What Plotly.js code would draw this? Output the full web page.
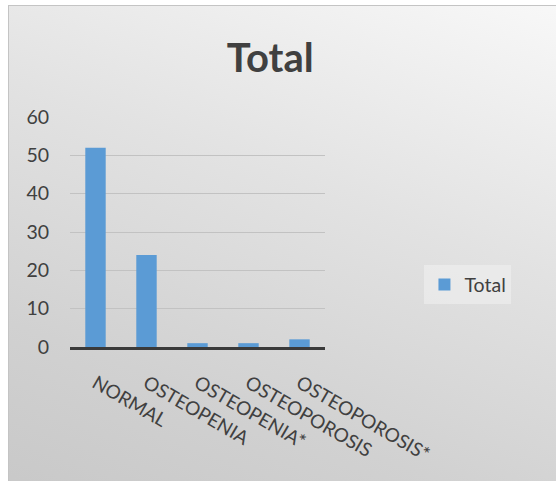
<!DOCTYPE html>
<html>
<head>
<meta charset="utf-8">
<script src="https://cdn.plot.ly/plotly-3.0.1.min.js"></script>
<style>
  html, body { margin: 0; padding: 0; background: #ffffff; }
  #frame {
    position: absolute; left: 8px; top: 5px; width: 560px; height: 490px;
    border: 1px solid #c4c4c4;
    background: linear-gradient(200deg, #f8f8f8 0%, #e2e2e2 40%, #d1d1d1 75%, #c8c8c8 100%);
  }
  #chart { position: absolute; left: 0; top: 0; width: 556px; height: 481px; }
</style>
</head>
<body>
<div id="frame"></div>
<div id="chart"></div>
<script>
const categories = ["NORMAL", "OSTEOPENIA", "OSTEOPENIA*", "OSTEOPOROSIS", "OSTEOPOROSIS*"];
const totals = [52, 24, 1, 1, 2];
const seriesName = "Total";
const yTicks = [0, 10, 20, 30, 40, 50, 60];

const fontFam = "Lato, 'Open Sans', sans-serif";

Plotly.newPlot("chart", [{
  type: "bar",
  x: categories,
  y: totals,
  name: seriesName,
  marker: { color: "#5b9bd5" },
  showlegend: true
}], {
  width: 556, height: 481,
  paper_bgcolor: "rgba(0,0,0,0)",
  plot_bgcolor: "rgba(0,0,0,0)",
  margin: { l: 70, r: 231, t: 117, b: 134 },
  bargap: 0.6,
  title: {
    text: "<b>Total</b>",
    font: { family: fontFam, size: 40, color: "#404040" },
    x: 0.486, xref: "container", xanchor: "center",
    y: 0.88, yref: "container", yanchor: "middle"
  },
  xaxis: {
    type: "category",
    showgrid: false,
    showline: true, linecolor: "#3a3a3a", linewidth: 3,
    ticks: "",
    tickangle: 30,
    ticklabelstandoff: 15,
    ticklabelshift: 0,
    tickfont: { family: fontFam, size: 19, color: "#404040" },
    fixedrange: true
  },
  yaxis: {
    range: [0, 60],
    tickvals: yTicks,
    showgrid: true, gridcolor: "#c2c2c2", gridwidth: 1,
    zeroline: false,
    showline: false,
    ticks: "",
    ticklabelstandoff: 20,
    tickfont: { family: fontFam, size: 19.5, color: "#404040" },
    fixedrange: true
  },
  legend: {
    x: 1.39, xanchor: "left",
    y: 0.27, yanchor: "middle",
    bgcolor: "rgba(240,240,240,0.6)",
    font: { family: fontFam, size: 19.5, color: "#404040" },
    itemwidth: 30
  },
  showlegend: true
}, { displayModeBar: false, staticPlot: true });
</script>
</body>
</html>
